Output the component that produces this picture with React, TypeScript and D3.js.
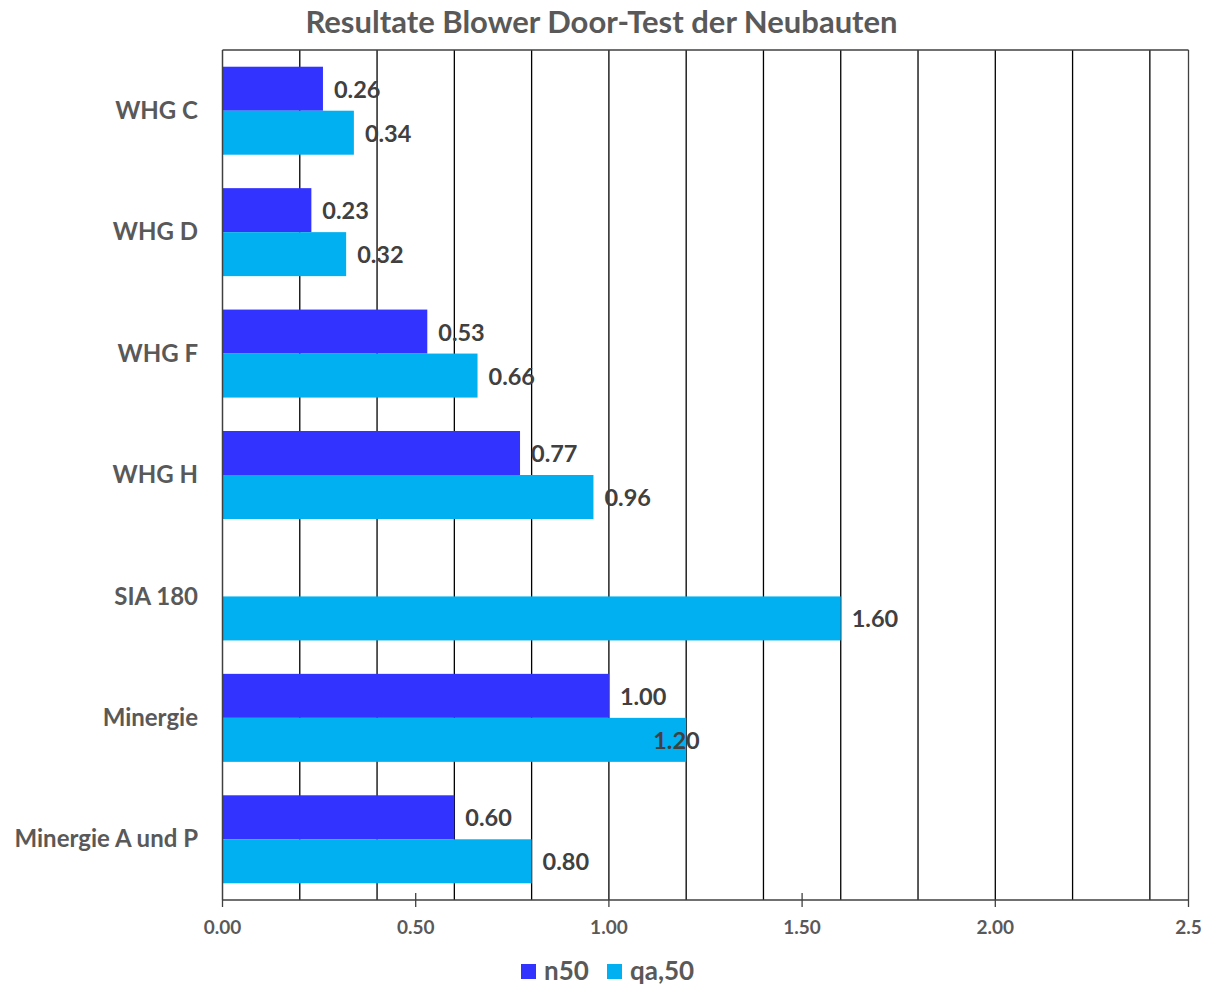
import React from "react";
import * as d3 from "d3";

const categories = ["WHG C", "WHG D", "WHG F", "WHG H", "SIA 180", "Minergie", "Minergie A und P"];
const n50Values: (number | null)[] = [0.26, 0.23, 0.53, 0.77, null, 1.0, 0.6];
const qa50Values: (number | null)[] = [0.34, 0.32, 0.66, 0.96, 1.6, 1.2, 0.8];
const seriesNames = ["n50", "qa,50"];
const tickValues = [0, 0.5, 1.0, 1.5, 2.0, 2.5];
const tickLabels = ["0.00", "0.50", "1.00", "1.50", "2.00", "2.5"];
const gridValues = [0.2, 0.4, 0.6, 0.8, 1.0, 1.2, 1.4, 1.6, 1.8, 2.0, 2.2, 2.4, 2.5];
const title = "Resultate Blower Door-Test der Neubauten";

const W = 1209;
const H = 986;
const left = 222.5;
const right = 1188.5;
const top = 50;
const bottom = 900;
const colors = ["#3333FF", "#00B0F0"];
const FONT = "Lato, 'Open Sans', sans-serif";

export default function App() {
  const x = d3.scaleLinear().domain([0, 2.5]).range([left, right]);
  const band = d3.scaleBand<string>().domain(categories).range([top, bottom]).padding(0);
  const bw = band.bandwidth() / 2.76;
  const series = [n50Values, qa50Values];
  // manual label nudge seen in the reference (Minergie qa,50 label)
  const nudge = (ci: number, si: number) => (ci === 5 && si === 1 ? -44 : 0);

  return (
    <svg width={W} height={H} style={{ position: "absolute", left: 0, top: 0, background: "#fff" }} fontFamily={FONT}>
      <rect x={0} y={0} width={W} height={H} fill="#fff" />
      <text x={601.5} y={33} textAnchor="middle" fontSize={31} fontWeight={700} fill="#595959">
        {title}
      </text>
      {/* gridlines */}
      {gridValues.map((g) => (
        <line key={g} x1={x(g)} x2={x(g)} y1={top} y2={bottom} stroke={g === 2.5 ? "#404040" : "#000"} strokeWidth={1.3} />
      ))}
      <line x1={left} x2={right} y1={top} y2={top} stroke="#404040" strokeWidth={1.5} />
      {/* bars */}
      {categories.map((c, ci) => {
        const y0 = (band(c) as number) + band.bandwidth() / 2 - bw;
        return series.map((s, si) => {
          const v = s[ci];
          if (v == null) return null;
          return (
            <rect key={c + si} x={x(0)} y={y0 + si * bw} width={x(v) - x(0)} height={bw} fill={colors[si]} />
          );
        });
      })}
      {/* axis */}
      <line x1={left} x2={left} y1={top} y2={bottom} stroke="#404040" strokeWidth={1.5} />
      <line x1={left} x2={right} y1={bottom} y2={bottom} stroke="#404040" strokeWidth={1.5} />
      {tickValues.map((t, i) => (
        <g key={t}>
          <line x1={x(t)} x2={x(t)} y1={[0, 1, 2, 2.5].includes(t) ? bottom : bottom - 7} y2={bottom + 7} stroke="#404040" strokeWidth={1.3} />
          <text x={x(t)} y={929} textAnchor="middle" dominantBaseline="middle" fontSize={19} fontWeight={700} fill="#595959">
            {tickLabels[i]}
          </text>
        </g>
      ))}
      {/* category labels */}
      {categories.map((c) => (
        <text key={c} x={198} y={(band(c) as number) + band.bandwidth() / 2 + 2} textAnchor="end" dominantBaseline="middle" fontSize={24} fontWeight={700} fill="#595959">
          {c}
        </text>
      ))}
      {/* value labels */}
      {categories.map((c, ci) => {
        const y0 = (band(c) as number) + band.bandwidth() / 2 - bw;
        return series.map((s, si) => {
          const v = s[ci];
          if (v == null) return null;
          return (
            <text key={c + "l" + si} x={x(v) + 11 + nudge(ci, si)} y={y0 + si * bw + bw / 2 + 3} dominantBaseline="middle" fontSize={23.5} fontWeight={700} fill="#404040">
              {v.toFixed(2)}
            </text>
          );
        });
      })}
      {/* legend */}
      {seriesNames.map((n, i) => {
        const lx = [521, 607][i];
        return (
          <g key={n}>
            <rect x={lx} y={964} width={15} height={15} fill={colors[i]} />
            <text x={lx + 23} y={973} dominantBaseline="middle" fontSize={26} fontWeight={700} fill="#595959">
              {n}
            </text>
          </g>
        );
      })}
    </svg>
  );
}
